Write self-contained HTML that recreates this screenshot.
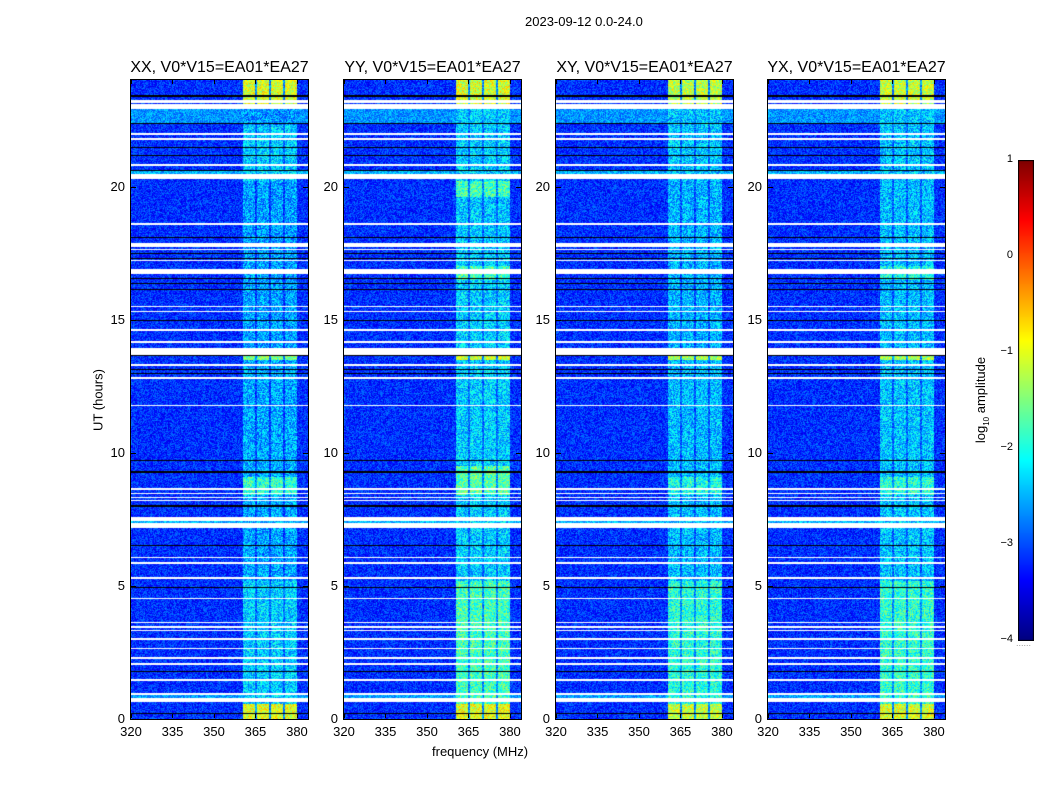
<!DOCTYPE html>
<html><head><meta charset="utf-8">
<style>
body{margin:0;background:#fff;width:1050px;height:800px;overflow:hidden;position:relative;font-family:"Liberation Sans",sans-serif;color:#000}
.t{position:absolute;font-size:13px;white-space:nowrap}
canvas{position:absolute}
.ttl{position:absolute;font-size:16px;white-space:nowrap;transform:translateX(-50%)}
</style></head><body>
<div class="t" style="left:525px;top:14px">2023-09-12 0.0-24.0</div>
<div id="root"></div>
<canvas id="cb" width="16" height="481" style="left:1018px;top:160px"></canvas>
<div class="t" style="left:982px;top:400px;transform:translate(-50%,-50%) rotate(-90deg)">log<sub style="font-size:8px">10</sub> amplitude</div>
<div class="t" style="left:1016px;top:638px;font-size:9px;color:#999">......</div>
<div class="t" style="left:432px;top:744px">frequency (MHz)</div>
<div class="t" style="left:98px;top:400px;transform:translate(-50%,-50%) rotate(-90deg)">UT (hours)</div>
<script>
// ---- data ----
const panelNames=["XX, V0*V15=EA01*EA27","YY, V0*V15=EA01*EA27","XY, V0*V15=EA01*EA27","YX, V0*V15=EA01*EA27"];
const xTicks=[320,335,350,365,380];
const yTicks=[0,5,10,15,20];
const cbTicks=[-4,-3,-2,-1,0,1];
const subBands=[[360.5,364.8],[365.5,369.9],[370.6,374.9],[375.6,380.0]];
const backgroundLevel=-3.15;
const whiteRows=[[23.15,23.25],[22.92,23.1],[21.93,22.0],[21.76,21.83],[20.76,20.83],[20.28,20.47],[18.57,18.63],[17.72,17.88],[17.6,17.65],[17.2,17.25],[16.72,16.92],[15.47,15.53],[15.27,15.33],[14.57,14.63],[14.12,14.18],[13.68,13.92],[13.27,13.33],[12.77,12.83],[11.74,11.8],[8.6,8.66],[8.45,8.5],[8.3,8.35],[8.18,8.23],[7.42,7.57],[7.18,7.35],[6.04,6.1],[5.82,5.88],[5.27,5.33],[4.5,4.56],[3.6,3.66],[3.42,3.48],[3.3,3.35],[2.97,3.03],[2.62,2.68],[2.27,2.33],[2.04,2.1],[1.44,1.5],[0.9,0.96],[0.64,0.8]];
const blackRows=[[23.38,23.43],[22.33,22.38],[21.43,21.47],[21.13,21.17],[20.58,20.62],[18.05,18.09],[17.48,17.52],[17.28,17.32],[16.51,16.55],[16.34,16.38],[16.11,16.15],[14.93,14.97],[13.65,13.7],[13.11,13.15],[12.97,13.01],[9.68,9.73],[9.25,9.3],[7.98,8.02],[6.48,6.52],[4.93,4.97],[1.75,1.79],[0.2,0.24]];
const brightRows=[[22.38,22.9,-2.65],[20.47,20.57,-2.5],[7.35,7.42,-2.5],[0.8,0.9,-2.6]];
const bandXX=[[0,0.55,-1.0],[0.55,5.2,-2.35],[5.2,8.4,-2.55],[8.4,9.1,-1.9],[9.1,13.5,-2.55],[13.5,13.68,-1.5],[13.92,20.2,-2.6],[20.2,22.3,-2.35],[22.3,23.0,-2.7],[23.0,24,-1.05]];
const bandYY=[[0,0.55,-1.0],[0.55,5.2,-1.8],[5.2,8.4,-2.35],[8.4,9.5,-1.7],[9.5,13.5,-2.35],[13.5,13.68,-1.15],[13.92,16.5,-2.35],[16.5,17.0,-1.8],[17.0,19.6,-2.4],[19.6,20.2,-1.8],[20.2,23.0,-2.35],[23.0,24,-1.05]];
const bandXY=[[0,0.55,-1.15],[0.55,5.2,-1.95],[5.2,8.4,-2.45],[8.4,9.1,-2.0],[9.1,13.5,-2.45],[13.5,13.68,-1.3],[13.92,20.2,-2.5],[20.2,23.0,-2.4],[23.0,24,-1.2]];
const bandYX=[[0,0.55,-1.05],[0.55,5.2,-1.9],[5.2,8.4,-2.4],[8.4,9.1,-1.95],[9.1,13.5,-2.4],[13.5,13.68,-1.3],[13.92,16.5,-2.45],[16.5,17.0,-2.0],[17.0,20.2,-2.45],[20.2,23.0,-2.4],[23.0,24,-1.15]];
const bands=[bandXX,bandYY,bandXY,bandYX];

function jet(v){let t=(v+4)/5;t=Math.max(0,Math.min(1,t));
 const f=x=>Math.max(0,Math.min(1,x));
 const r=f(Math.min(4*t-1.5,-4*t+4.5)),g=f(Math.min(4*t-0.5,-4*t+3.5)),b=f(Math.min(4*t+0.5,-4*t+2.5));
 return [r*255|0,g*255|0,b*255|0];}
function hash(a,b){let h=(a*374761393+b*668265263)|0;h=(h^(h>>>13))*1274126177|0;return ((h^(h>>>16))>>>0)/4294967296;}
const panelLeft=[131,344,556,768],PW=177,PT=80,PH=639;
const fMin=320,fMax=384;
const xs=f=>(f-fMin)/(fMax-fMin)*PW;
const ys=h=>PH-(h/24)*PH;
function inR(arr,h){for(const r of arr)if(h>=r[0]&&h<r[1])return r;return null;}

const root=document.getElementById('root');
panelNames.forEach((name,p)=>{
 const L=panelLeft[p];
 const c=document.createElement('canvas');
 c.width=PW;c.height=PH;c.style.left=L+'px';c.style.top=PT+'px';
 
 
 root.appendChild(c);
 const ctx=c.getContext('2d');const img=ctx.createImageData(PW,PH);
 for(let y=0;y<PH;y++){
  const h=(PH-y-0.5)/PH*24;
  const wr=inR(whiteRows,h),br=inR(blackRows,h),bright=inR(brightRows,h),band=inR(bands[p],h);
  for(let x=0;x<PW;x++){
   let col;
   if(wr)col=[255,255,255];else if(br)col=[0,0,0];
   else{
    const f=fMin+(x+0.5)/PW*(fMax-fMin);
    let v=bright?bright[2]:backgroundLevel;
    let inB=false,gap=false;for(const s of subBands)if(f>=s[0]&&f<s[1])inB=true;
    if(!inB&&f>=subBands[0][0]&&f<subBands[3][1])gap=true;
    if(inB&&band)v=Math.max(v,band[2]);
    else if(gap&&band)v=Math.max(v,Math.min(band[2]-0.5,-2.7));
    const n=hash(x+p*1000,y);
    v+=(n-0.5)*(inB?1.1:0.8);
    col=jet(v);
   }
   const i=(y*PW+x)*4;img.data[i]=col[0];img.data[i+1]=col[1];img.data[i+2]=col[2];img.data[i+3]=255;
  }
 }
 ctx.putImageData(img,0,0);
 const fr=document.createElement('div');
 fr.style.cssText=`position:absolute;left:${L-1}px;top:${PT-1}px;width:${PW}px;height:${PH}px;border:1px solid #000`;
 
 
 root.appendChild(fr);
 const t=document.createElement('div');t.className='ttl';t.textContent=name;
 t.style.left=(L+PW/2)+'px';t.style.top='59px';
 
 
 root.appendChild(t);
 xTicks.forEach(v=>{const d=document.createElement('div');d.className='t';d.textContent=v;
  d.style.left=(L+xs(v))+'px';d.style.top='724px';d.style.transform='translateX(-50%)';
  
  
  root.appendChild(d);
  [PT+PH-5,PT].forEach(ty=>{const k=document.createElement('div');k.style.cssText=`position:absolute;left:${L+xs(v)}px;top:${ty}px;width:1px;height:4px;background:#000`;root.appendChild(k);});
 });
 yTicks.forEach(v=>{const d=document.createElement('div');d.className='t';d.textContent=v;
  d.style.left=(L-6)+'px';d.style.top=(PT+ys(v)-8)+'px';d.style.transform='translateX(-100%)';
  
  
  root.appendChild(d);
  [L,L+PW-5].forEach(tx=>{const k=document.createElement('div');k.style.cssText=`position:absolute;left:${tx}px;top:${PT+ys(v)}px;width:5px;height:1px;background:#000`;root.appendChild(k);});
 });
});
const cb=document.getElementById('cb'),cc=cb.getContext('2d');
for(let y=0;y<481;y++){const v=1-y/480*5;const c=jet(v);cc.fillStyle=`rgb(${c})`;cc.fillRect(0,y,16,1);}
cc.strokeStyle='#000';cc.strokeRect(0.5,0.5,15,480);
cbTicks.forEach(v=>{const y=160+(1-v)/5*480;const d=document.createElement('div');d.className='t';
 d.textContent=v<0?'\u2212'+(-v):String(v);d.style.fontSize='11px';
 d.style.left='1013px';d.style.top=(y-7)+'px';d.style.transform='translateX(-100%)';
 
 
 document.body.appendChild(d);});
</script>
</body></html>
